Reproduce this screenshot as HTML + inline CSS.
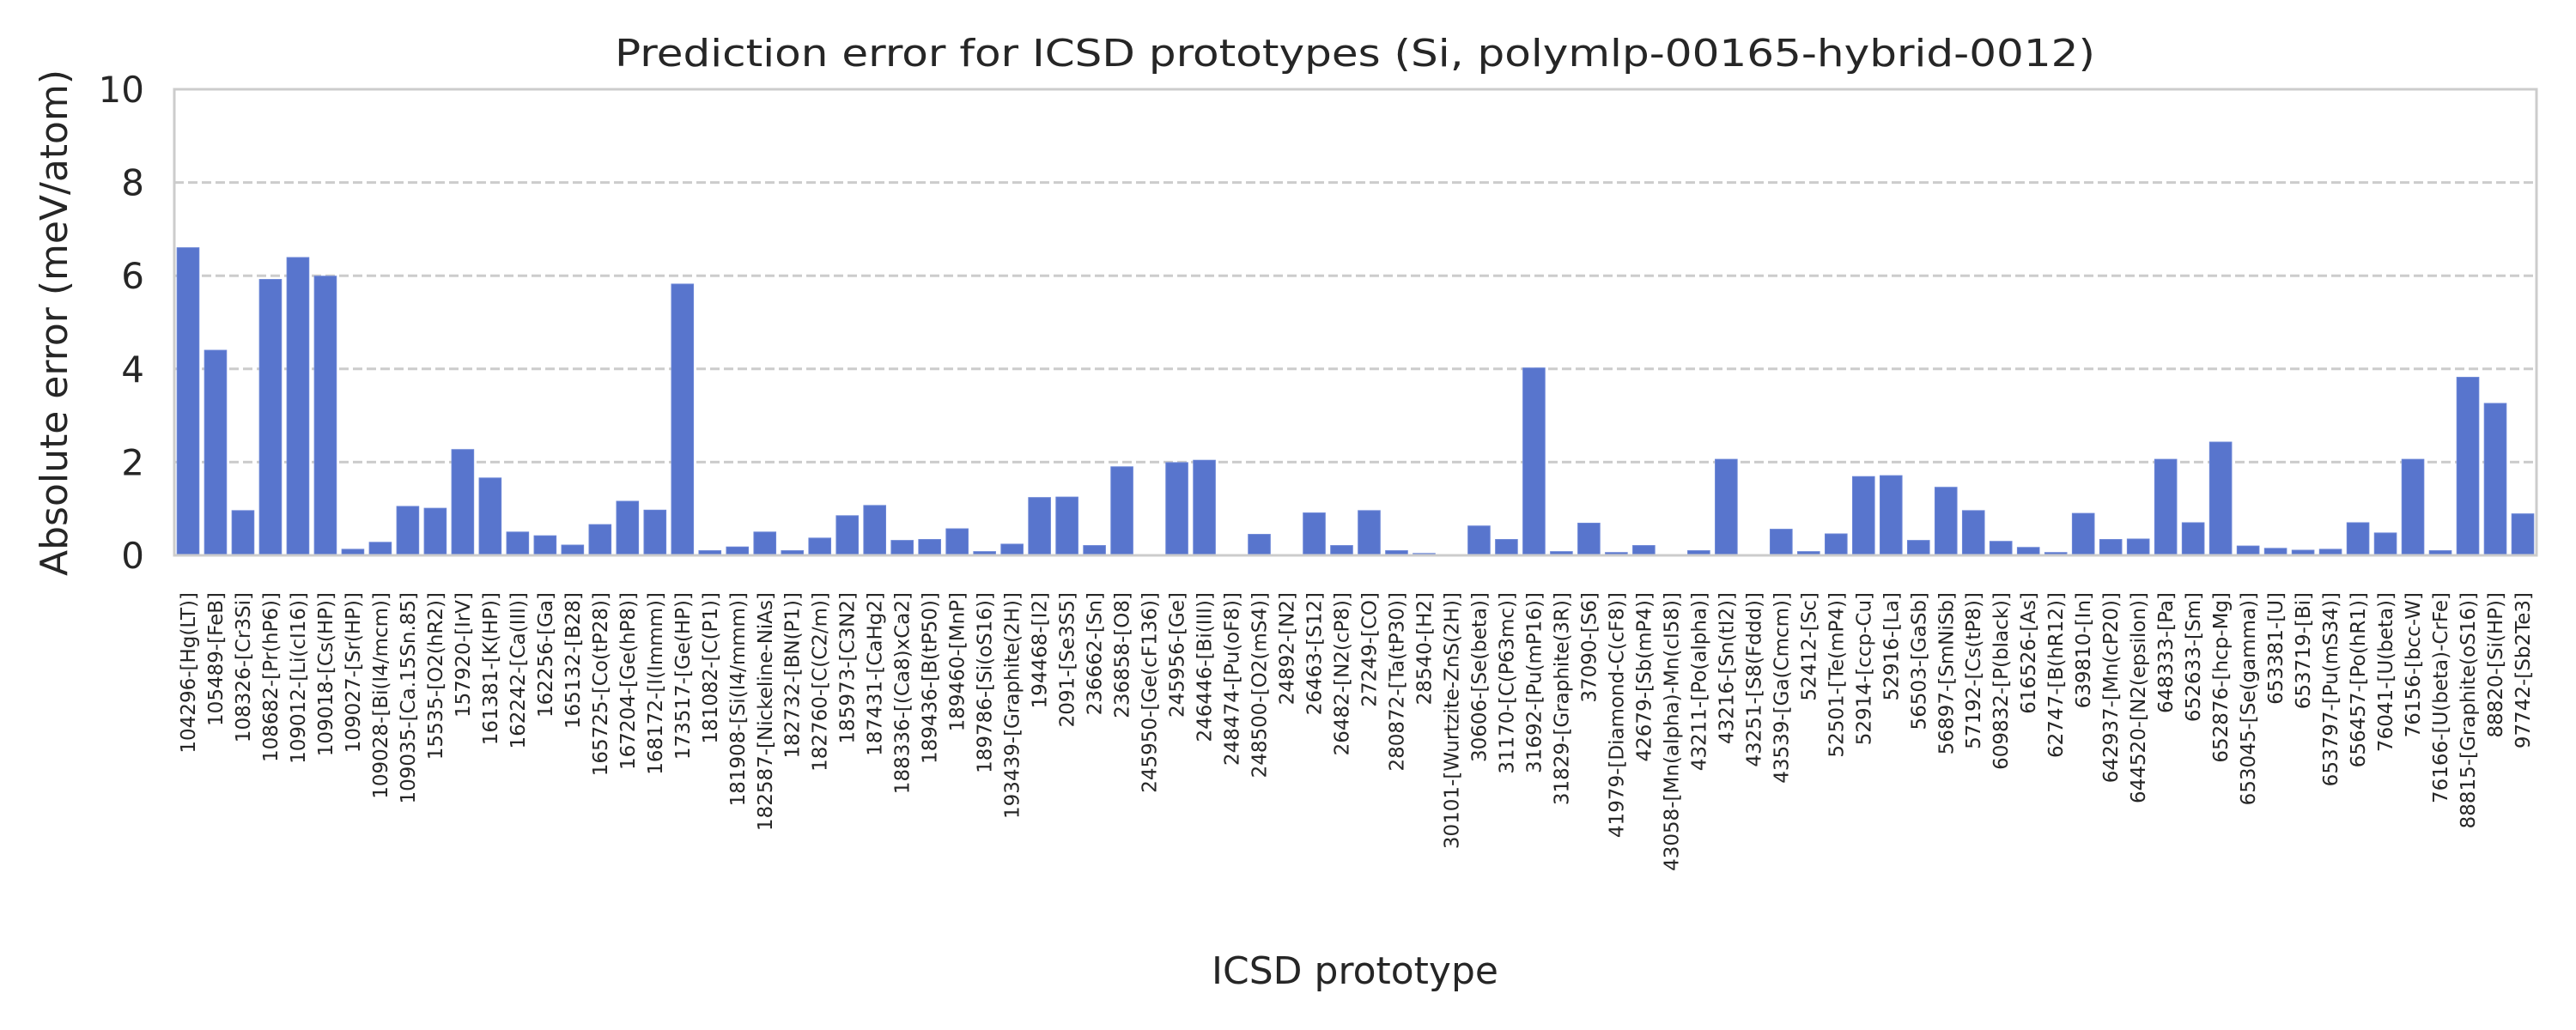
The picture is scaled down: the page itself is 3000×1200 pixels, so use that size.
<!DOCTYPE html>
<html>
<head>
<meta charset="utf-8">
<style>
  html, body { margin: 0; padding: 0; background: #fff; }
  svg { display: block; }
  text { font-family: "DejaVu Sans", "Liberation Sans", sans-serif; fill: #262626; }
</style>
</head>
<body>
<svg id="chart" width="3000" height="1200" viewBox="0 0 3000 1200" xmlns="http://www.w3.org/2000/svg">
  <rect x="0" y="0" width="3000" height="1200" fill="#fff"/>
  <text x="1578" y="77" text-anchor="middle" font-size="44" textLength="1724" lengthAdjust="spacingAndGlyphs">Prediction error for ICSD prototypes (Si, polymlp-00165-hybrid-0012)</text>
  <g id="grid"></g>
  <g id="bars"></g>
  <rect x="203" y="104" width="2751" height="543" fill="none" stroke="#cccccc" stroke-width="3"/>
  <g id="yticks"></g>
  <g id="xticks"></g>
  <text x="0" y="0" transform="translate(78,376) rotate(-90)" text-anchor="middle" font-size="44">Absolute error (meV/atom)</text>
  <text x="1578" y="1146" text-anchor="middle" font-size="44">ICSD prototype</text>
</svg>
<script>
const categories = [
"104296-[Hg(LT)]","105489-[FeB]","108326-[Cr3Si]","108682-[Pr(hP6)]","109012-[Li(cI16)]","109018-[Cs(HP)]","109027-[Sr(HP)]","109028-[Bi(I4/mcm)]","109035-[Ca.15Sn.85]","15535-[O2(hR2)]",
"157920-[IrV]","161381-[K(HP)]","162242-[Ca(III)]","162256-[Ga]","165132-[B28]","165725-[Co(tP28)]","167204-[Ge(hP8)]","168172-[I(Immm)]","173517-[Ge(HP)]","181082-[C(P1)]",
"181908-[Si(I4/mmm)]","182587-[Nickeline-NiAs]","182732-[BN(P1)]","182760-[C(C2/m)]","185973-[C3N2]","187431-[CaHg2]","188336-[(Ca8)xCa2]","189436-[B(tP50)]","189460-[MnP]","189786-[Si(oS16)]",
"193439-[Graphite(2H)]","194468-[I2]","2091-[Se3S5]","236662-[Sn]","236858-[O8]","245950-[Ge(cF136)]","245956-[Ge]","246446-[Bi(III)]","248474-[Pu(oF8)]","248500-[O2(mS4)]",
"24892-[N2]","26463-[S12]","26482-[N2(cP8)]","27249-[CO]","280872-[Ta(tP30)]","28540-[H2]","30101-[Wurtzite-ZnS(2H)]","30606-[Se(beta)]","31170-[C(P63mc)]","31692-[Pu(mP16)]",
"31829-[Graphite(3R)]","37090-[S6]","41979-[Diamond-C(cF8)]","42679-[Sb(mP4)]","43058-[Mn(alpha)-Mn(cI58)]","43211-[Po(alpha)]","43216-[Sn(tI2)]","43251-[S8(Fddd)]","43539-[Ga(Cmcm)]","52412-[Sc]",
"52501-[Te(mP4)]","52914-[ccp-Cu]","52916-[La]","56503-[GaSb]","56897-[SmNiSb]","57192-[Cs(tP8)]","609832-[P(black)]","616526-[As]","62747-[B(hR12)]","639810-[In]",
"642937-[Mn(cP20)]","644520-[N2(epsilon)]","648333-[Pa]","652633-[Sm]","652876-[hcp-Mg]","653045-[Se(gamma)]","653381-[U]","653719-[Bi]","653797-[Pu(mS34)]","656457-[Po(hR1)]",
"76041-[U(beta)]","76156-[bcc-W]","76166-[U(beta)-CrFe]","88815-[Graphite(oS16)]","88820-[Si(HP)]","97742-[Sb2Te3]"
];
const errors = [
6.60,4.40,0.96,5.92,6.39,5.99,0.13,0.28,1.05,1.01,
2.27,1.66,0.50,0.42,0.22,0.66,1.16,0.97,5.82,0.10,
0.18,0.50,0.10,0.37,0.85,1.07,0.32,0.34,0.57,0.08,
0.24,1.24,1.25,0.21,1.90,0.0,1.99,2.04,0.0,0.45,
0.0,0.91,0.21,0.96,0.10,0.04,0.0,0.63,0.34,4.02,
0.08,0.69,0.06,0.21,0.0,0.10,2.06,0.0,0.56,0.08,
0.46,1.69,1.71,0.32,1.46,0.96,0.30,0.17,0.06,0.90,
0.34,0.35,2.06,0.70,2.43,0.20,0.15,0.11,0.13,0.70,
0.48,2.06,0.10,3.82,3.26,0.89
];
const yTicks = [0,2,4,6,8,10];
const yGrid = [2,4,6,8];

const NS = "http://www.w3.org/2000/svg";
const plotL = 203, plotR = 2954, plotT = 104, plotB = 647;
const yMax = 10;
const slot = (plotR - plotL) / categories.length;
function xBand(i) { return plotL + i * slot; }
function yPos(v) { return plotB - (v / yMax) * (plotB - plotT); }

const grid = document.getElementById('grid');
yGrid.forEach(t => {
  const l = document.createElementNS(NS, 'line');
  l.setAttribute('x1', plotL); l.setAttribute('x2', plotR);
  l.setAttribute('y1', yPos(t)); l.setAttribute('y2', yPos(t));
  l.setAttribute('stroke', '#cccccc'); l.setAttribute('stroke-width', '3');
  l.setAttribute('stroke-dasharray', '11,5');
  
  
  grid.appendChild(l);
});

const yt = document.getElementById('yticks');
yTicks.forEach(t => {
  const tx = document.createElementNS(NS, 'text');
  tx.setAttribute('x', 168); tx.setAttribute('y', yPos(t) + 15);
  tx.setAttribute('text-anchor', 'end'); tx.setAttribute('font-size', '42');
  tx.textContent = t;
  
  
  yt.appendChild(tx);
});

const bars = document.getElementById('bars');
const xt = document.getElementById('xticks');
categories.forEach((c, i) => {
  const v = errors[i];
  const bw = slot * 0.8;
  const x = xBand(i) + slot * 0.1;
  const r = document.createElementNS(NS, 'rect');
  r.setAttribute('x', x); r.setAttribute('width', bw);
  r.setAttribute('y', yPos(v)); r.setAttribute('height', plotB - yPos(v));
  r.setAttribute('fill', '#5875cd');
  r.setAttribute('stroke', '#6a85d6'); r.setAttribute('stroke-width', '1');
  
  
  bars.appendChild(r);

  const cx = xBand(i) + slot / 2;
  const tx = document.createElementNS(NS, 'text');
  tx.setAttribute('transform', 'translate(' + (cx + 8) + ',690) rotate(-90)');
  tx.setAttribute('text-anchor', 'end'); tx.setAttribute('font-size', '23');
  tx.textContent = c;
  
  
  xt.appendChild(tx);
});
</script>
</body>
</html>
